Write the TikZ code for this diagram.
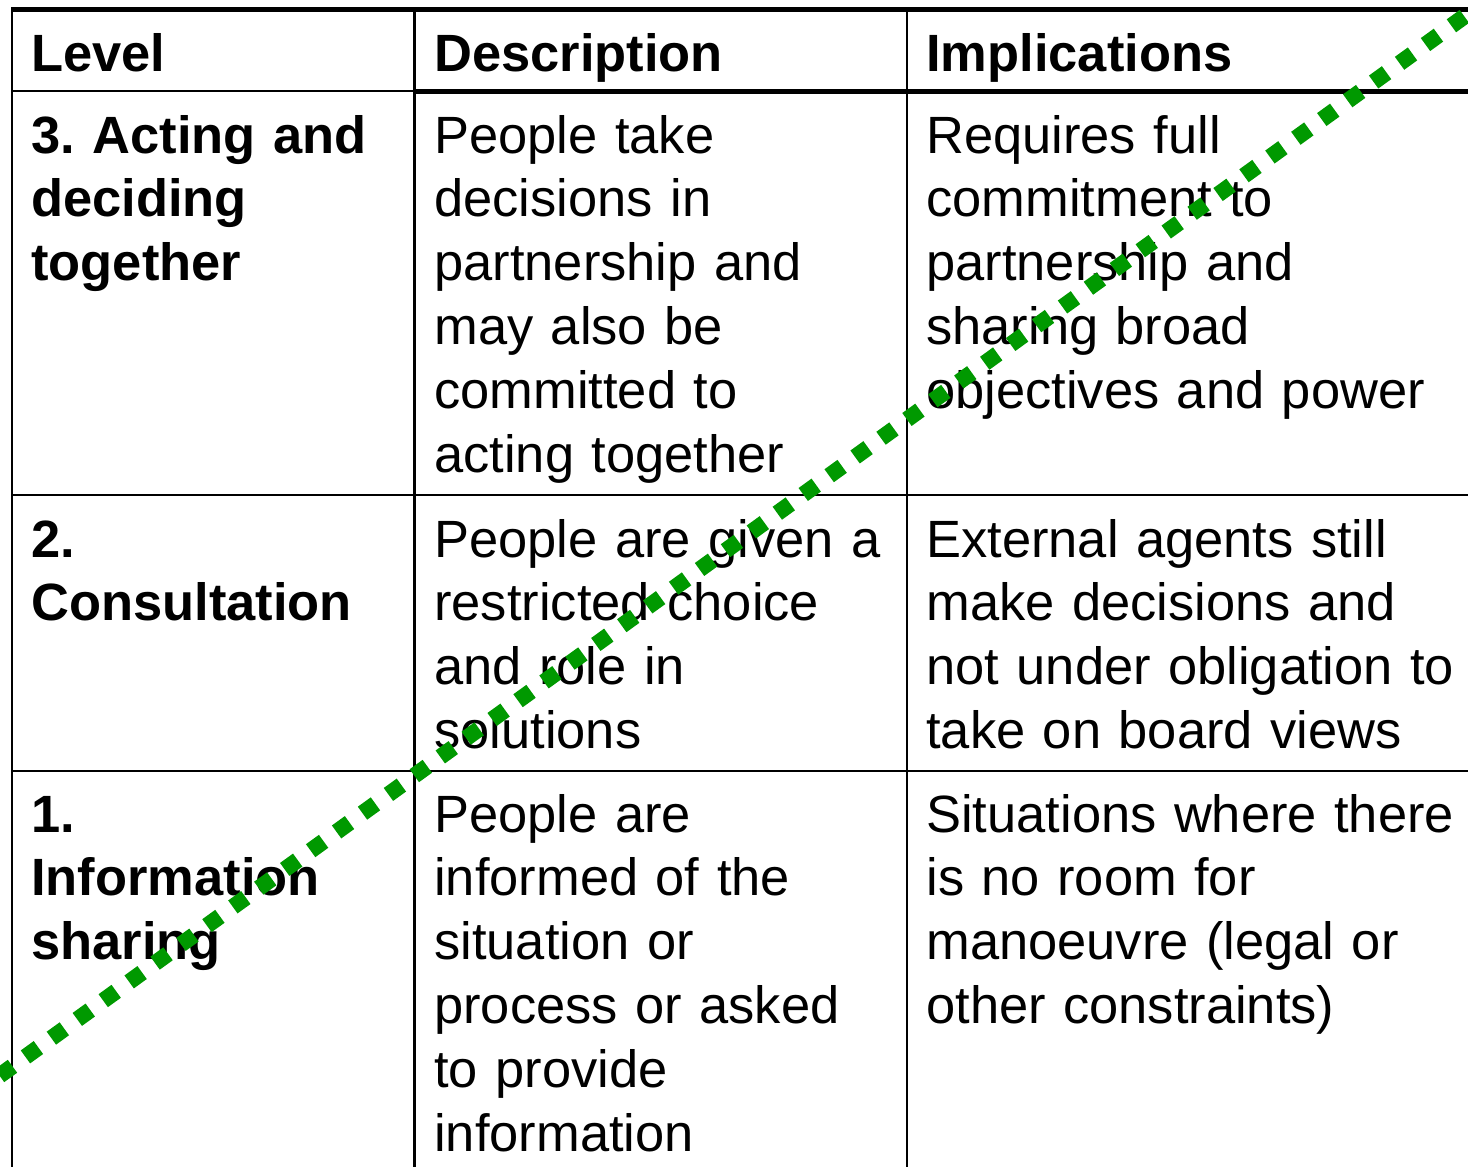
\documentclass[tikz,border=0pt]{standalone}
\usepackage{fontspec}
\setmainfont{Liberation Sans}
\usetikzlibrary{positioning}

\definecolor{dotgreen}{RGB}{0,153,0}

\begin{document}
\begin{tikzpicture}[x=0.02cm, y=-0.02cm,
  cell/.style={anchor=base west, inner sep=0pt, align=left, text width=470,
    font=\fontsize{29.85pt}{36.42pt}\selectfont\frenchspacing},
  head/.style={cell, font=\fontsize{29.85pt}{36.42pt}\selectfont\bfseries\frenchspacing},
  thin/.style={line width=1.45pt},
  thick/.style={line width=2.5pt},
  greendots/.style={dotgreen, line width=0.32cm, dash pattern=on 0.32cm off 0.32cm}]
\useasboundingbox (0,0) rectangle (1468,1167);
\clip (0,0) rectangle (1468,1167);

% grid
\draw[thin] (12,9) -- (12,1167);
\draw[thin] (414.5,9) -- (414.5,1167);
\draw[thin] (907,9) -- (907,1167);
\draw[thick] (11,9.5) -- (1468,9.5);
\draw[thin] (12,91) -- (414.5,91);
\draw[thick] (414.5,91.5) -- (1468,91.5);
\draw[thin] (12,495) -- (1468,495);
\draw[thin] (12,771) -- (1468,771);

% header
\node[head] (hlevel) at (31,71) {Level};
\node[head] (hdesc) at (434,71) {Description};
\node[head] (himpl) at (926,71) {Implications};

% level 3
\node[head] (lvl3) at (31,153) {3.\ Acting and\\deciding\\together};
\node[cell] (desc3) at (434,153) {People take\\decisions in\\partnership and\\may also be\\committed to\\acting together};
\node[cell] (impl3) at (926,153) {Requires full\\commitment to\\partnership and\\sharing broad\\objectives and power};

% level 2
\node[head] (lvl2) at (31,557) {2.\\Consultation};
\node[cell] (desc2) at (434,557) {People are given a\\restricted choice\\and role in\\solutions};
\node[cell] (impl2) at (926,557) {External agents still\\make decisions and\\not under obligation to\\take on board views};

% level 1
\node[head] (lvl1) at (31,832) {1.\\Information\\sharing};
\node[cell] (desc1) at (434,832) {People are\\informed of the\\situation or\\process or asked\\to provide\\information};
\node[cell] (impl1) at (926,832) {Situations where there\\is no room for\\manoeuvre (legal or\\other constraints)};

\coordinate (dotstart) at (-26.4,1094.4);
\coordinate (dotend) at (1490.4,-2.4);
\draw[greendots] (dotstart) -- (dotend);
\end{tikzpicture}
\end{document}
